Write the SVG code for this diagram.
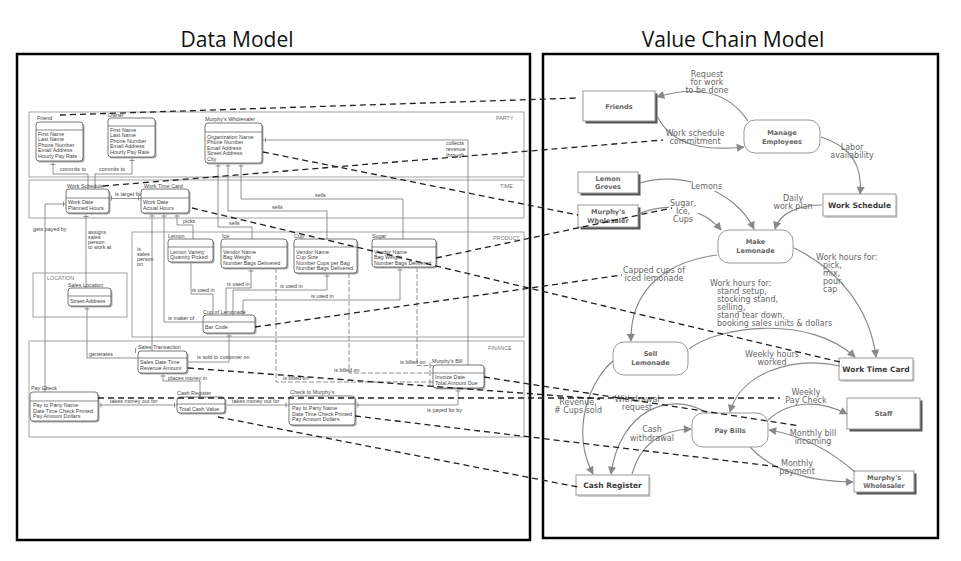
<svg xmlns="http://www.w3.org/2000/svg" width="961" height="561" viewBox="0 0 961 561">
<defs>
<marker id="ah" viewBox="0 0 10 10" refX="9" refY="5" markerWidth="9" markerHeight="8" markerUnits="userSpaceOnUse" orient="auto"><path d="M0,0 L10,5 L0,10 z" fill="#888"/></marker>
</defs>
<style>
.title{font-family:"Open Sans","Liberation Sans",sans-serif;font-size:21px;fill:#111;text-anchor:middle}
.frame{fill:none;stroke:#000;stroke-width:2.5}
.sec{fill:none;stroke:#999;stroke-width:0.9}
.ent{fill:#fff;stroke:#555;stroke-width:0.8}
.shd{fill:#aaa}
.div{stroke:#555;stroke-width:0.7}
.rel{fill:none;stroke:#777;stroke-width:0.8}
.reld{fill:none;stroke:#777;stroke-width:0.8;stroke-dasharray:5 2}
.t5{font-family:"Liberation Sans",Arial,sans-serif;font-size:5.4px;fill:#444}
.sl{font-family:"Liberation Sans",Arial,sans-serif;font-size:5.4px;fill:#777}
.box{fill:#fff;stroke:#999;stroke-width:1}
.proc{fill:#fff;stroke:#999;stroke-width:1}
.sd{fill:#555}
.sl2{fill:#ccc}
.nb{font-family:"DejaVu Sans",sans-serif;font-size:6.6px;font-weight:bold;fill:#666;text-anchor:middle}
.nb2{font-family:"DejaVu Sans",sans-serif;font-size:7.5px;font-weight:bold;fill:#3a3a3a;text-anchor:middle}
.flow{fill:none;stroke:#8a8a8a;stroke-width:1.2;marker-end:url(#ah)}
.lbl{font-family:"DejaVu Sans",sans-serif;font-size:8px;fill:#666;text-anchor:middle}
.lbll{font-family:"DejaVu Sans",sans-serif;font-size:8px;fill:#666}
.xl{fill:none;stroke:#222;stroke-width:1.3;stroke-dasharray:6 4}
</style>
<rect width="961" height="561" fill="#fff"/>
<text class="title" x="237" y="47">Data Model</text>
<text class="title" x="733" y="47">Value Chain Model</text>
<rect class="frame" x="17" y="54" width="513" height="486"/>
<rect class="frame" x="543" y="54" width="395" height="484"/>

<g id="sections">
<rect class="sec" x="29" y="112" width="495" height="65"/>
<text class="sl" x="496" y="120">PARTY</text>
<rect class="sec" x="29" y="180" width="495" height="38"/>
<text class="sl" x="500" y="188">TIME</text>
<rect class="sec" x="132" y="232" width="392" height="105"/>
<text class="sl" x="493" y="240">PRODUCT</text>
<rect class="sec" x="33" y="273" width="94" height="44"/>
<text class="sl" x="47" y="280">LOCATION</text>
<rect class="sec" x="29" y="341" width="495" height="96"/>
<text class="sl" x="488" y="350">FINANCE</text>
</g>

<g id="relations">
<path class="rel" d="M53,161 V174 H88 V189"/><text class="t5" x="60" y="171">commits to</text>
<path class="rel" d="M132,157 V174 H95 V189"/><text class="t5" x="99" y="171">commits to</text>
<path class="rel" d="M141,198.5 H109"/><text class="t5" x="115" y="196">is target for</text>
<path class="rel" d="M66,204 H45 V392"/><text class="t5" x="33" y="231">gets payed by</text>
<path class="rel" d="M86,213 V288"/>
<text class="t5" x="88" y="234">assigns</text><text class="t5" x="88" y="239">sales</text><text class="t5" x="88" y="244">person</text><text class="t5" x="88" y="249">to work at</text>
<path class="rel" d="M87,306 V358 H138"/><text class="t5" x="89" y="356">generates</text>
<path class="rel" d="M152,213 V351"/>
<text class="t5" x="137" y="251">is</text><text class="t5" x="137" y="256">sales</text><text class="t5" x="137" y="261">person</text><text class="t5" x="137" y="266">on</text>
<path class="rel" d="M164,213 V322 H203"/><text class="t5" x="168" y="320">is maker of</text>
<path class="rel" d="M177,213 V225 H193 V239"/><text class="t5" x="183" y="223">picks</text>
<path class="rel" d="M218,163 V227 H252 V239"/><text class="t5" x="229" y="225">sells</text>
<path class="rel" d="M228,163 V211 H327 V239"/><text class="t5" x="272" y="209">sells</text>
<path class="rel" d="M241,163 V199 H403 V239"/><text class="t5" x="315" y="197">sells</text>
<path class="rel" d="M262,140 H468 V365"/>
<text class="t5" x="446" y="145">collects</text><text class="t5" x="446" y="151">revenue</text><text class="t5" x="446" y="157">through</text>
<path class="rel" d="M191,262 V294 H213 V315"/><text class="t5" x="192" y="292">is used in</text>
<path class="rel" d="M251,268 V288 H226 V315"/><text class="t5" x="227" y="286">is used in</text>
<path class="rel" d="M327,273 V290 H233 V315"/><text class="t5" x="280" y="288">is used in</text>
<path class="rel" d="M400,267 V300 H243 V315"/><text class="t5" x="311" y="298">is used in</text>
<path class="rel" d="M229,333 V362 H187"/><text class="t5" x="197" y="359">is sold to customer on</text>
<path class="rel" d="M163,373 V381 H200 V397"/><text class="t5" x="168" y="379.5">places money in</text>
<path class="rel" d="M98,405 H177"/><text class="t5" x="110" y="403">takes money out for</text>
<path class="rel" d="M225,405 H289"/><text class="t5" x="232" y="402.5">takes money out for</text>
<path class="rel" d="M355,405 H458 V388"/><text class="t5" x="427" y="411.5">is payed for by</text>
<path class="reld" d="M276,268 V382 H433"/><text class="t5" x="283" y="380">is billed on</text>
<path class="reld" d="M349,273 V373 H433"/><text class="t5" x="334" y="371.5">is billed on</text>
<path class="reld" d="M417,267 V365.5 H433"/><text class="t5" x="400" y="364">is billed on</text>
<path class="rel" d="M50.5,164.5 h5 M129.5,160.5 h5 M83.5,216.5 h5 M149.5,216 h5 M161.5,216 h5 M174.5,216 h5 M215.5,166 h5 M225.5,166 h5 M238.5,166 h5 M265.5,137.5 v5 M84.5,309 h5 M160.5,376 h5 M174.5,402.5 v5 M101,402.5 v5 M286,402.5 v5 M358,402.5 v5 M455.5,391 h5 M188.5,259 h5 M248.5,271 h5 M324.5,276 h5 M397.5,270 h5 M226.5,336 h5 M111.5,195.5 v5 M138.5,195.5 v5 M63.5,201.5 v5 M42.5,389 h5 M85.5,191.5 h5 M92.5,191.5 h5 M135.5,348 v5 M184.5,359.5 v5 M430,362.5 v6 M430,370 v6 M430,379 v6"/>
</g>

<g id="e-friend"><text class="t5" x="37" y="120">Friend</text><rect class="shd" x="37.5" y="123.5" width="47" height="39" rx="3"/><rect class="ent" x="36" y="122" width="47" height="39" rx="3"/><line class="div" x1="36" y1="130" x2="83" y2="130"/>
<text class="t5" x="38" y="135.5">First Name</text><text class="t5" x="38" y="141">Last Name</text><text class="t5" x="38" y="146.5">Phone Number</text><text class="t5" x="38" y="152">Email Address</text><text class="t5" x="38" y="157.5">Hourly Pay Rate</text></g>
<g id="e-owner"><text class="t5" x="108" y="117">Owner</text><rect class="shd" x="109.5" y="119.5" width="47" height="39" rx="3"/><rect class="ent" x="108" y="118" width="47" height="39" rx="3"/><line class="div" x1="108" y1="126" x2="155" y2="126"/>
<text class="t5" x="110" y="131.5">First Name</text><text class="t5" x="110" y="137">Last Name</text><text class="t5" x="110" y="142.5">Phone Number</text><text class="t5" x="110" y="148">Email Address</text><text class="t5" x="110" y="153.5">Hourly Pay Rate</text></g>
<g id="e-murphys"><text class="t5" x="205" y="121">Murphy's Wholesaler</text><rect class="shd" x="206.5" y="124.5" width="57" height="40" rx="3"/><rect class="ent" x="205" y="123" width="57" height="40" rx="3"/><line class="div" x1="205" y1="132" x2="262" y2="132"/>
<text class="t5" x="207" y="138.5">Organization Name</text><text class="t5" x="207" y="144">Phone Number</text><text class="t5" x="207" y="149.5">Email Address</text><text class="t5" x="207" y="155">Street Address</text><text class="t5" x="207" y="160.5">City</text></g>
<g id="e-workschedule"><text class="t5" x="67" y="188">Work Schedule</text><rect class="shd" x="67.5" y="190.5" width="43" height="24" rx="3"/><rect class="ent" x="66" y="189" width="43" height="24" rx="3"/><line class="div" x1="66" y1="198" x2="109" y2="198"/>
<text class="t5" x="68" y="204">Work Date</text><text class="t5" x="68" y="209.5">Planned Hours</text></g>
<g id="e-worktimecard"><text class="t5" x="144" y="188">Work Time Card</text><rect class="shd" x="142.5" y="190.5" width="48" height="24" rx="3"/><rect class="ent" x="141" y="189" width="48" height="24" rx="3"/><line class="div" x1="141" y1="198" x2="189" y2="198"/>
<text class="t5" x="143" y="204">Work Date</text><text class="t5" x="143" y="209.5">Actual Hours</text></g>
<g id="e-lemon"><text class="t5" x="168" y="237.5">Lemon</text><rect class="shd" x="169.5" y="240.5" width="45" height="23" rx="3"/><rect class="ent" x="168" y="239" width="45" height="23" rx="3"/><line class="div" x1="168" y1="247" x2="213" y2="247"/>
<text class="t5" x="170" y="253.5">Lemon Variety</text><text class="t5" x="170" y="259">Quantity Picked</text></g>
<g id="e-ice"><text class="t5" x="222" y="237.5">Ice</text><rect class="shd" x="222.5" y="240.5" width="66" height="29" rx="3"/><rect class="ent" x="221" y="239" width="66" height="29" rx="3"/><line class="div" x1="221" y1="247" x2="287" y2="247"/>
<text class="t5" x="223" y="253.5">Vendor Name</text><text class="t5" x="223" y="259">Bag Weight</text><text class="t5" x="223" y="264.5">Number Bags Delivered</text></g>
<g id="e-cup"><text class="t5" x="294" y="237.5">Cup</text><rect class="shd" x="295.5" y="240.5" width="63" height="34" rx="3"/><rect class="ent" x="294" y="239" width="63" height="34" rx="3"/><line class="div" x1="294" y1="247" x2="357" y2="247"/>
<text class="t5" x="296" y="253.5">Vendor Name</text><text class="t5" x="296" y="259">Cup Size</text><text class="t5" x="296" y="264.5">Number Cups per Bag</text><text class="t5" x="296" y="270">Number Bags Delivered</text></g>
<g id="e-sugar"><text class="t5" x="372" y="237.5">Sugar</text><rect class="shd" x="373.5" y="240.5" width="64" height="28" rx="3"/><rect class="ent" x="372" y="239" width="64" height="28" rx="3"/><line class="div" x1="372" y1="247" x2="436" y2="247"/>
<text class="t5" x="374" y="253.5">Vendor Name</text><text class="t5" x="374" y="259">Bag Weight</text><text class="t5" x="374" y="264.5">Number Bags Delivered</text></g>
<g id="e-saleslocation"><text class="t5" x="68" y="286.5">Sales Location</text><rect class="shd" x="69.5" y="289.5" width="43" height="18" rx="3"/><rect class="ent" x="68" y="288" width="43" height="18" rx="3"/><line class="div" x1="68" y1="296" x2="111" y2="296"/>
<text class="t5" x="70" y="302.5">Street Address</text></g>
<g id="e-cupoflemonade"><text class="t5" x="203" y="313.5">Cup of Lemonade</text><rect class="shd" x="204.5" y="316.5" width="52" height="18" rx="3"/><rect class="ent" x="203" y="315" width="52" height="18" rx="3"/><line class="div" x1="203" y1="322" x2="255" y2="322"/>
<text class="t5" x="205" y="329">Bar Code</text></g>
<g id="e-salestransaction"><text class="t5" x="138" y="348.5">Sales Transaction</text><rect class="shd" x="139.5" y="352.5" width="49" height="22" rx="3"/><rect class="ent" x="138" y="351" width="49" height="22" rx="3"/><line class="div" x1="138" y1="358" x2="187" y2="358"/>
<text class="t5" x="140" y="364">Sales Date Time</text><text class="t5" x="140" y="369.5">Revenue Amount</text></g>
<g id="e-murphysbill"><text class="t5" x="432" y="363">Murphy's Bill</text><rect class="shd" x="434.5" y="366.5" width="51" height="23" rx="3"/><rect class="ent" x="433" y="365" width="51" height="23" rx="3"/><line class="div" x1="433" y1="373" x2="484" y2="373"/>
<text class="t5" x="435" y="379">Invoice Date</text><text class="t5" x="435" y="384.5">Total Amount Due</text></g>
<g id="e-paycheck"><text class="t5" x="31" y="390">Pay Check</text><rect class="shd" x="31.5" y="393.5" width="68" height="29" rx="3"/><rect class="ent" x="30" y="392" width="68" height="29" rx="3"/><line class="div" x1="30" y1="401" x2="98" y2="401"/>
<text class="t5" x="33" y="407">Pay to Party Name</text><text class="t5" x="33" y="412.5">Date Time Check Printed</text><text class="t5" x="33" y="418">Pay Amount Dollars</text></g>
<g id="e-cashregister"><text class="t5" x="177" y="394.5">Cash Register</text><rect class="shd" x="178.5" y="398.5" width="48" height="16" rx="3"/><rect class="ent" x="177" y="397" width="48" height="16" rx="3"/><line class="div" x1="177" y1="404" x2="225" y2="404"/>
<text class="t5" x="179" y="410.5">Total Cash Value</text></g>
<g id="e-checktomurphys"><text class="t5" x="290" y="393.5">Check to Murphy's</text><rect class="shd" x="290.5" y="397.5" width="66" height="29" rx="3"/><rect class="ent" x="289" y="396" width="66" height="29" rx="3"/><line class="div" x1="289" y1="404" x2="355" y2="404"/>
<text class="t5" x="292" y="410">Pay to Party Name</text><text class="t5" x="292" y="415.5">Date Time Check Printed</text><text class="t5" x="292" y="421">Pay Amount Dollars</text></g>

<g id="n-friends"><rect class="sd" x="585.5" y="93.5" width="72" height="30"/><rect class="box" x="583" y="91" width="72" height="30"/><text class="nb" x="619" y="108.5">Friends</text></g>
<g id="n-manage"><rect class="proc" x="744" y="120" width="76" height="33" rx="11"/><text class="nb" x="782" y="135">Manage</text><text class="nb" x="782" y="143.5">Employees</text></g>
<g id="n-lemongroves"><rect class="sd" x="580.5" y="174.5" width="60" height="21"/><rect class="box" x="578" y="172" width="60" height="21"/><text class="nb" x="608" y="180.5">Lemon</text><text class="nb" x="608" y="189">Groves</text></g>
<g id="n-murphys1"><rect class="sd" x="580.5" y="207.5" width="60" height="22"/><rect class="box" x="578" y="205" width="60" height="22"/><text class="nb" x="608" y="214">Murphy's</text><text class="nb" x="608" y="222.5">Wholesaler</text></g>
<g id="n-workschedule"><rect class="sl2" x="824.5" y="196" width="73" height="22"/><rect class="box" x="823" y="194" width="73" height="22"/><text class="nb2" x="859.5" y="208">Work Schedule</text></g>
<g id="n-make"><rect class="proc" x="718" y="230" width="75" height="33" rx="11"/><text class="nb" x="755.5" y="244">Make</text><text class="nb" x="755.5" y="252.5">Lemonade</text></g>
<g id="n-sell"><rect class="proc" x="613" y="342" width="75" height="33" rx="11"/><text class="nb" x="650.5" y="356">Sell</text><text class="nb" x="650.5" y="364.5">Lemonade</text></g>
<g id="n-worktimecard"><rect class="sl2" x="840.5" y="360" width="74" height="22"/><rect class="box" x="839" y="358" width="74" height="22"/><text class="nb2" x="876" y="372">Work Time Card</text></g>
<g id="n-paybills"><rect class="proc" x="692" y="413" width="76" height="34" rx="11"/><text class="nb" x="730" y="432.5">Pay Bills</text></g>
<g id="n-staff"><rect class="sd" x="849.5" y="400.5" width="73" height="31"/><rect class="box" x="847" y="398" width="73" height="31"/><text class="nb" x="883.5" y="416">Staff</text></g>
<g id="n-cashregister"><rect class="sl2" x="577.5" y="477" width="73" height="20"/><rect class="box" x="576" y="475" width="73" height="20"/><text class="nb2" x="612.5" y="488">Cash Register</text></g>
<g id="n-murphys2"><rect class="sd" x="856.5" y="473.5" width="60" height="21"/><rect class="box" x="854" y="471" width="60" height="21"/><text class="nb" x="884" y="479.5">Murphy's</text><text class="nb" x="884" y="488">Wholesaler</text></g>

<g id="flows">
<path class="flow" d="M748,121 C730,94 700,84 657,97"/>
<text class="lbl" x="707" y="77">Request</text><text class="lbl" x="707" y="85">for work</text><text class="lbl" x="707" y="93">to be done</text>
<path class="flow" d="M657,116 C672,146 705,151 744,147"/>
<text class="lbl" x="695" y="136">Work schedule</text><text class="lbl" x="695" y="144">commitment</text>
<path class="flow" d="M821,137 C850,146 863,165 860,194"/>
<text class="lbl" x="852" y="150">Labor</text><text class="lbl" x="852" y="158">availability</text>
<path class="flow" d="M640,183 C680,170 735,190 754,229"/>
<rect x="691" y="182" width="31" height="9" fill="#fff"/><text class="lbl" x="706.5" y="189">Lemons</text>
<path class="flow" d="M639,214 C670,200 705,210 721,230"/>
<rect x="669" y="199" width="29" height="24" fill="#fff"/>
<text class="lbl" x="683" y="206">Sugar,</text><text class="lbl" x="683" y="214">Ice,</text><text class="lbl" x="683" y="222">Cups</text>
<path class="flow" d="M822,205 C800,205 780,212 775,229"/>
<text class="lbl" x="793" y="201">Daily</text><text class="lbl" x="793" y="209">work plan</text>
<path class="flow" d="M717,255 C665,262 630,290 631,341"/>
<text class="lbl" x="654" y="273">Capped cups of</text><text class="lbl" x="654" y="281">iced lemonade</text>
<path class="flow" d="M794,248 C840,270 870,310 876,357"/>
<text class="lbll" x="816" y="260">Work hours for:</text><text class="lbll" x="823" y="268">pick,</text><text class="lbll" x="823" y="276">mix,</text><text class="lbll" x="823" y="284">pour,</text><text class="lbll" x="823" y="292">cap</text>
<path class="flow" d="M689,349 C720,325 810,315 855,357"/>
<text class="lbll" x="710" y="286">Work hours for:</text><text class="lbll" x="717" y="294">stand setup,</text><text class="lbll" x="717" y="302">stocking stand,</text><text class="lbll" x="717" y="310">selling,</text><text class="lbll" x="717" y="318">stand tear down,</text><text class="lbll" x="717" y="326">booking sales units &amp; dollars</text>
<path class="flow" d="M840,366 C790,355 740,375 730,412"/>
<text class="lbl" x="772" y="357">Weekly hours</text><text class="lbl" x="772" y="365">worked</text>
<path class="flow" d="M613,361 C590,380 570,430 593,474"/>
<text class="lbl" x="578" y="405">Revenue,</text><text class="lbl" x="578" y="413"># Cups sold</text>
<path class="flow" d="M707,413 C670,390 620,410 611,474"/>
<text class="lbl" x="637" y="402">Withdrawal</text><text class="lbl" x="637" y="410">request</text>
<path class="flow" d="M632,474 C640,445 660,430 691,429"/>
<text class="lbl" x="652" y="432">Cash</text><text class="lbl" x="652" y="441">withdrawal</text>
<path class="flow" d="M768,420 C790,400 820,400 847,414"/>
<text class="lbl" x="806" y="395">Weekly</text><text class="lbl" x="806" y="403">Pay Check</text>
<path class="flow" d="M855,472 C830,450 800,435 769,430"/>
<text class="lbl" x="813" y="436">Monthly bill</text><text class="lbl" x="813" y="444">incoming</text>
<path class="flow" d="M750,447 C770,470 810,482 853,482"/>
<text class="lbl" x="797" y="466">Monthly</text><text class="lbl" x="797" y="474">payment</text>
</g>

<g id="connectors">
<path class="xl" d="M60,115 L578,98"/>
<path class="xl" d="M103,186 L663,140"/>
<path class="xl" d="M263,152 L578,215"/>
<path class="xl" d="M192,208 L840,362"/>
<path class="xl" d="M436,258 L672,208"/>
<path class="xl" d="M255,327 L622,275"/>
<path class="xl" d="M188,368 L600,399"/>
<path class="xl" d="M98,398 L780,398"/>
<path class="xl" d="M484,377 L800,426"/>
<path class="xl" d="M218,417 L578,487"/>
<path class="xl" d="M355,416 L780,467"/>
</g>
</svg>
